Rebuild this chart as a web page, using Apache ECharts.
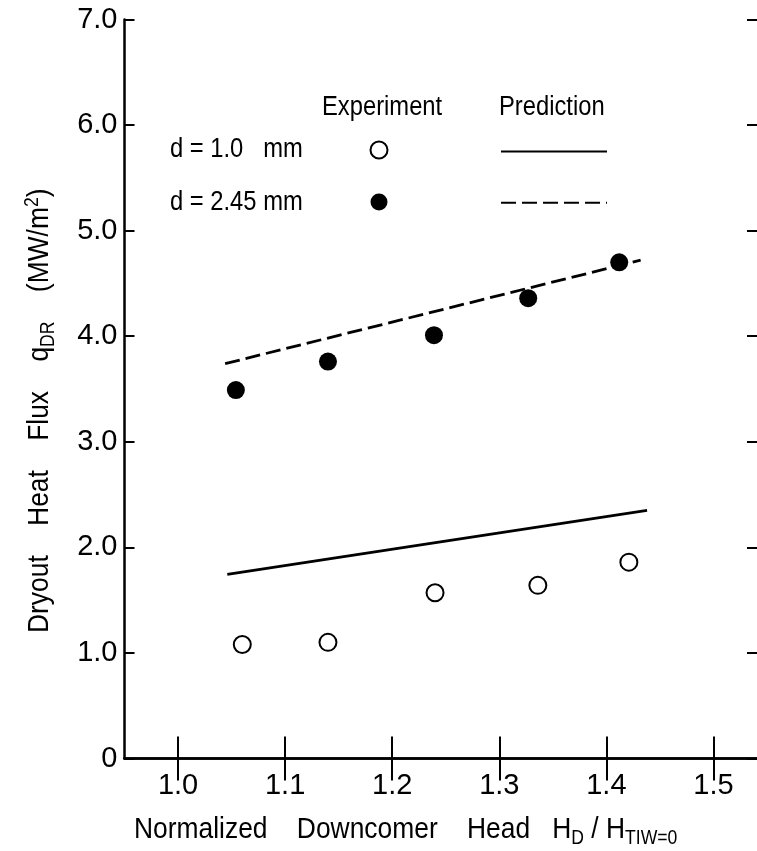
<!DOCTYPE html>
<html>
<head>
<meta charset="utf-8">
<script src="https://cdn.jsdelivr.net/npm/echarts@6/dist/echarts.min.js"></script>
<style>html,body{margin:0;padding:0;background:#fff;overflow:hidden;width:757px;height:851px;}#c{width:767px;height:851px;}</style>
</head>
<body>
<div id="c"></div>
<script>
// ---- data ----
const xTicks = [1.0, 1.1, 1.2, 1.3, 1.4, 1.5];
const expX_d10 = [1.060, 1.140, 1.240, 1.336, 1.421];
const expY_d10 = [1.08, 1.10, 1.57, 1.64, 1.86];
const expX_d245 = [1.054, 1.140, 1.239, 1.327, 1.412];
const expY_d245 = [3.49, 3.76, 4.01, 4.36, 4.70];
const predX_d10 = [1.046, 1.438];
const predY_d10 = [1.745, 2.35];
const predX_d245 = [1.044, 1.432];
const predY_d245 = [3.74, 4.72];
const legendLabels = ['d = 1.0   mm', 'd = 2.45 mm'];
const legendHeads = ['Experiment', 'Prediction'];
const xTitle = 'Normalized    Downcomer    Head   H{sub|D} / H{sub|TIW=0}';
const yTitle = 'Dryout    Heat    Flux    q{sub|DR}    (MW/m{sup|2})';

const zip = (a, b) => a.map((v, i) => [v, b[i]]);
const SANS = "'Liberation Sans',Arial,sans-serif";
const NX = 0.88; // horizontal squeeze to mimic the narrow typeface

const chart = echarts.init(document.getElementById('c'), null, {renderer: 'canvas'});

const axisLine = {show: true, lineStyle: {color: '#000', width: 2.5}};
const xCommon = {
  type: 'value', min: 0.95, max: 1.55,
  axisLine: axisLine, splitLine: {show: false},
  axisTick: {show: true, inside: true, length: 22, customValues: xTicks, lineStyle: {color: '#000', width: 2}}
};
const yCommon = {
  type: 'value', min: 0, max: 7, interval: 1,
  axisLine: axisLine, splitLine: {show: false}
};
const richSub = {
  sub: {fontFamily: SANS, fontSize: 20, fill: '#000', padding: [16, 0, 0, 0]},
  sup: {fontFamily: SANS, fontSize: 20, fill: '#000', padding: [0, 0, 16, 0]}
};

const option = {
  backgroundColor: '#fff',
  animation: false,
  grid: {left: 124.5, top: 19.5, right: 0, bottom: 92.5},
  xAxis: [
    Object.assign({}, xCommon, {
      position: 'bottom',
      axisLabel: {show: true, customValues: xTicks, formatter: v => v.toFixed(1), fontFamily: SANS, fontSize: 29, color: '#000', margin: 13}
    }),
    Object.assign({}, xCommon, {position: 'top', axisLabel: {show: false}})
  ],
  yAxis: [
    Object.assign({}, yCommon, {
      position: 'left',
      axisTick: {show: true, inside: true, length: 10, lineStyle: {color: '#000', width: 2}},
      axisLabel: {show: true, formatter: v => v === 0 ? '0' : v.toFixed(1), fontFamily: SANS, fontSize: 29, color: '#000', margin: 7}
    }),
    Object.assign({}, yCommon, {
      position: 'right',
      axisTick: {show: true, inside: true, length: 20, lineStyle: {color: '#000', width: 2}},
      axisLabel: {show: false}
    })
  ],
  legend: [
    {
      data: ['Experiment d=1.0', 'Experiment d=2.45'],
      orient: 'vertical', left: 369.5, top: 140.5, padding: 0,
      itemWidth: 17, itemHeight: 17, itemGap: 34,
      formatter: () => '', textStyle: {fontSize: 10, lineHeight: 10},
      selectedMode: false
    },
    {
      data: ['Prediction d=1.0', 'Prediction d=2.45'],
      orient: 'vertical', left: 500, top: 146, padding: 0,
      itemWidth: 106, itemHeight: 14, itemGap: 40,
      itemStyle: {opacity: 0},
      formatter: () => '', textStyle: {fontSize: 10, lineHeight: 10},
      selectedMode: false
    }
  ],
  graphic: [
    {type: 'text', x: 322, y: 108, scaleX: NX, style: {text: legendHeads[0], font: '27px ' + SANS, fill: '#000', verticalAlign: 'middle'}},
    {type: 'text', x: 499, y: 108, scaleX: NX, style: {text: legendHeads[1], font: '27px ' + SANS, fill: '#000', verticalAlign: 'middle'}},
    {type: 'text', x: 170, y: 150, scaleX: NX, style: {text: legendLabels[0], font: '27px ' + SANS, fill: '#000', verticalAlign: 'middle'}},
    {type: 'text', x: 170, y: 203, scaleX: NX, style: {text: legendLabels[1], font: '27px ' + SANS, fill: '#000', verticalAlign: 'middle'}},
    {type: 'text', x: 134, y: 830, scaleX: NX,
      style: {text: xTitle, font: '30px ' + SANS, fill: '#000', verticalAlign: 'middle', rich: richSub}},
    {type: 'text', x: 40, y: 633, scaleX: NX, rotation: Math.PI / 2,
      style: {text: yTitle, font: '30px ' + SANS, fill: '#000', verticalAlign: 'middle', rich: richSub}}
  ],
  series: [
    {
      name: 'Experiment d=1.0', type: 'scatter', symbol: 'circle', symbolSize: 17,
      itemStyle: {color: '#fff', borderColor: '#000', borderWidth: 2, opacity: 1},
      data: zip(expX_d10, expY_d10)
    },
    {
      name: 'Experiment d=2.45', type: 'scatter', symbol: 'circle', symbolSize: 18,
      itemStyle: {color: '#000', borderColor: '#000', borderWidth: 0, opacity: 1},
      data: zip(expX_d245, expY_d245)
    },
    {
      name: 'Prediction d=1.0', type: 'line', symbol: 'none',
      lineStyle: {color: '#000', width: 2.8, type: 'solid'},
      itemStyle: {color: '#000'},
      data: zip(predX_d10, predY_d10)
    },
    {
      name: 'Prediction d=2.45', type: 'line', symbol: 'none',
      lineStyle: {color: '#000', width: 2.8, type: [15, 6]},
      itemStyle: {color: '#000'},
      data: zip(predX_d245, predY_d245)
    }
  ]
};
chart.setOption(option);
</script>
</body>
</html>
